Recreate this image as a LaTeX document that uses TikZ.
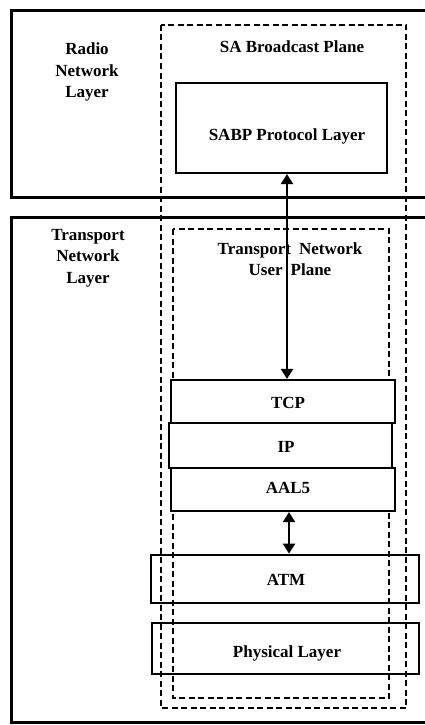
\documentclass[tikz,border=0pt]{standalone}
\usepackage{fontspec}
\setmainfont{Liberation Serif}
\usetikzlibrary{arrows.meta}
\begin{document}
\begin{tikzpicture}[x=1pt,y=-1pt,
  lay/.style={line width=3pt},
  plane/.style={line width=2.2pt,dash pattern=on 6pt off 3.5pt},
  blk/.style={draw,line width=2.2pt,minimum height=#1,inner sep=0pt},
  txt/.style={font=\bfseries\fontsize{17}{21.5}\selectfont,align=center,inner sep=0pt},
  conn/.style={line width=2.2pt,{Triangle[length=10pt,width=12pt]}-{Triangle[length=10pt,width=12pt]}}
]
\useasboundingbox (0,0) rectangle (425,725);
% layer frames (cut at right edge)
\draw[lay] (425,11) -- (11,11) -- (11,197) -- (425,197);
\draw[lay] (425,217) -- (11,217) -- (11,722) -- (425,722);
% dashed planes
\draw[plane] (161,25) rectangle (406,708);
\draw[plane] (173,229) rectangle (389,698);
% labels
\node[txt] (rnl) at (87,72) {Radio\\Network\\Layer};
\node[txt] (tnl) at (88,258) {Transport\\Network\\Layer};
\node[txt] (sabp) at (292,47) {SA Broadcast Plane};
\node[txt] (tnup) at (290,259) {Transport\hspace{8pt}Network\\User\hspace{8pt}Plane};
% blocks
\node[blk=90pt,minimum width=211pt,fill=white] (sabpl) at (281.5,128) {};
\node[txt] at (287,136) {SABP Protocol Layer};
\node[blk=43pt,minimum width=224pt,fill=white] (tcp) at (283,401.5) {};
\node[txt] at (288,403) {TCP};
\node[blk=45pt,minimum width=223pt,line width=2.8pt,fill=white] (ip) at (280.5,445.5) {};
\node[txt] at (286,447) {IP};
\node[blk=43pt,minimum width=224pt,fill=white] (aal) at (283,489.5) {};
\node[txt] at (288,488) {AAL5};
\node[blk=48pt,minimum width=268pt,line width=2.8pt] (atm) at (285,579) {};
\node[txt] at (286,580) {ATM};
\node[blk=51pt,minimum width=267pt,line width=2.8pt] (phy) at (285.5,648.5) {};
\node[txt] at (287,653) {Physical Layer};
% connectors
\draw[conn] (sabpl.south -| 287,0) -- (tcp.north -| 287,0);
\draw[conn] (aal.south -| 289,0) -- (atm.north -| 289,0);
\end{tikzpicture}
\end{document}
